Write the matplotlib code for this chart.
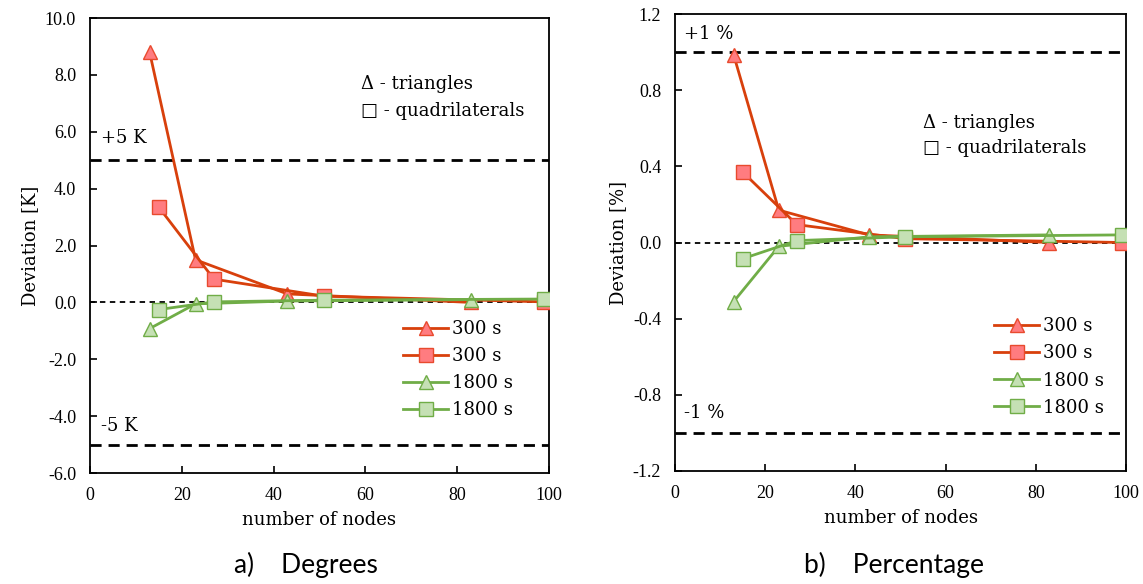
import matplotlib
matplotlib.use("Agg")
import matplotlib.pyplot as plt
from matplotlib.ticker import FormatStrFormatter

# node counts
tri_nodes = [13, 23, 43, 83]
quad_nodes = [15, 27, 51, 99]

# a) deviation in K
deg_tri_300 = [8.8, 1.5, 0.3, 0.0]
deg_quad_300 = [3.35, 0.82, 0.22, 0.02]
deg_tri_1800 = [-0.92, -0.05, 0.05, 0.1]
deg_quad_1800 = [-0.25, 0.02, 0.08, 0.12]

# b) deviation in %
pct_tri_300 = [0.985, 0.17, 0.04, 0.0]
pct_quad_300 = [0.37, 0.094, 0.02, 0.0]
pct_tri_1800 = [-0.31, -0.02, 0.03, 0.04]
pct_quad_1800 = [-0.085, 0.01, 0.03, 0.04]

RED_LINE = "#D8400C"
RED_FACE = "#FF7C80"
RED_EDGE = "#E84A2E"
GRN_LINE = "#70AD47"
GRN_FACE = "#C5E0B4"
GRN_EDGE = "#70AD47"

TICK_FONT = "Liberation Serif"
LABEL_FONT = "DejaVu Serif"

fig = plt.figure(figsize=(11.43, 5.84), dpi=100)
ax1 = fig.add_axes([0.0787, 0.190, 0.4016, 0.779])
ax2 = fig.add_axes([0.5906, 0.1935, 0.3946, 0.7825])


def draw_series(ax, tri_red, quad_red, tri_grn, quad_grn):
    ax.plot(tri_nodes, tri_red, "-^", color=RED_LINE, lw=2.0, ms=10,
            mfc=RED_FACE, mec=RED_EDGE, mew=1.0, label="300 s", zorder=3)
    ax.plot(quad_nodes, quad_red, "-s", color=RED_LINE, lw=2.0, ms=10,
            mfc=RED_FACE, mec=RED_EDGE, mew=1.0, label="300 s", zorder=3)
    ax.plot(tri_nodes, tri_grn, "-^", color=GRN_LINE, lw=2.0, ms=10,
            mfc=GRN_FACE, mec=GRN_EDGE, mew=1.0, label="1800 s", zorder=4)
    ax.plot(quad_nodes, quad_grn, "-s", color=GRN_LINE, lw=2.0, ms=10,
            mfc=GRN_FACE, mec=GRN_EDGE, mew=1.0, label="1800 s", zorder=4)


def style_axes(ax, ylim, yticks, ylabel, leg_anchor):
    ax.set_xlim(0, 100)
    ax.set_ylim(*ylim)
    ax.set_xticks([0, 20, 40, 60, 80, 100])
    ax.set_yticks(yticks)
    ax.yaxis.set_major_formatter(FormatStrFormatter("%.1f"))
    ax.tick_params(direction="in", length=5, width=1.2, pad=10, labelsize=13)
    ax.tick_params(axis="x", pad=10)
    for lab in ax.get_xticklabels() + ax.get_yticklabels():
        lab.set_fontfamily(TICK_FONT)
    for sp in ax.spines.values():
        sp.set_linewidth(1.3)
    ax.set_xlabel("number of nodes", fontfamily=LABEL_FONT, fontsize=13, labelpad=5)
    ax.set_ylabel(ylabel, fontfamily=LABEL_FONT, fontsize=13, labelpad=4)
    ax.legend(loc="upper left", bbox_to_anchor=leg_anchor, frameon=False,
              prop={"family": LABEL_FONT, "size": 13}, handlelength=2.5,
              handletextpad=0.2, labelspacing=0.5, borderaxespad=0.0,
              borderpad=0.0)


# ---- a) Degrees
draw_series(ax1, deg_tri_300, deg_quad_300, deg_tri_1800, deg_quad_1800)
ax1.axhline(5, color="black", ls=(0, (4, 2.5)), lw=2.0, zorder=1)
ax1.axhline(-5, color="black", ls=(0, (4, 2.5)), lw=2.0, zorder=1)
ax1.axhline(0, color="black", ls=(0, (3, 2.5)), lw=1.3, zorder=2)
style_axes(ax1, (-6, 10), [-6, -4, -2, 0, 2, 4, 6, 8, 10], "Deviation [K]",
           (0.682, 0.336))
ax1.text(2.5, 5.45, "+5 K", fontfamily=LABEL_FONT, fontsize=13, va="bottom")
ax1.text(2.5, -4.33, "-5 K", fontfamily=LABEL_FONT, fontsize=13, va="center")
ax1.text(59, 7.68, "Δ - triangles", fontfamily=LABEL_FONT, fontsize=13, va="center")
ax1.text(59, 6.72, "□ - quadrilaterals", fontfamily=LABEL_FONT, fontsize=13, va="center")

# ---- b) Percentage
draw_series(ax2, pct_tri_300, pct_quad_300, pct_tri_1800, pct_quad_1800)
ax2.axhline(1, color="black", ls=(0, (4, 2.5)), lw=2.0, zorder=1)
ax2.axhline(-1, color="black", ls=(0, (4, 2.5)), lw=2.0, zorder=1)
ax2.axhline(0, color="black", ls=(0, (3, 2.5)), lw=1.3, zorder=2)
style_axes(ax2, (-1.2, 1.2), [-1.2, -0.8, -0.4, 0, 0.4, 0.8, 1.2], "Deviation [%]",
           (0.707, 0.336))
ax2.text(2.0, 1.095, "+1 %", fontfamily=LABEL_FONT, fontsize=13, va="center")
ax2.text(2.0, -0.895, "-1 %", fontfamily=LABEL_FONT, fontsize=13, va="center")
ax2.text(55, 0.63, "Δ - triangles", fontfamily=LABEL_FONT, fontsize=13, va="center")
ax2.text(55, 0.495, "□ - quadrilaterals", fontfamily=LABEL_FONT, fontsize=13, va="center")

# captions
fig.text(0.268, 0.033, "a)    Degrees", ha="center", va="center",
         fontfamily="Lato", fontsize=19)
fig.text(0.782, 0.033, "b)    Percentage", ha="center", va="center",
         fontfamily="Lato", fontsize=19)

fig.savefig("out.png", dpi=100)
